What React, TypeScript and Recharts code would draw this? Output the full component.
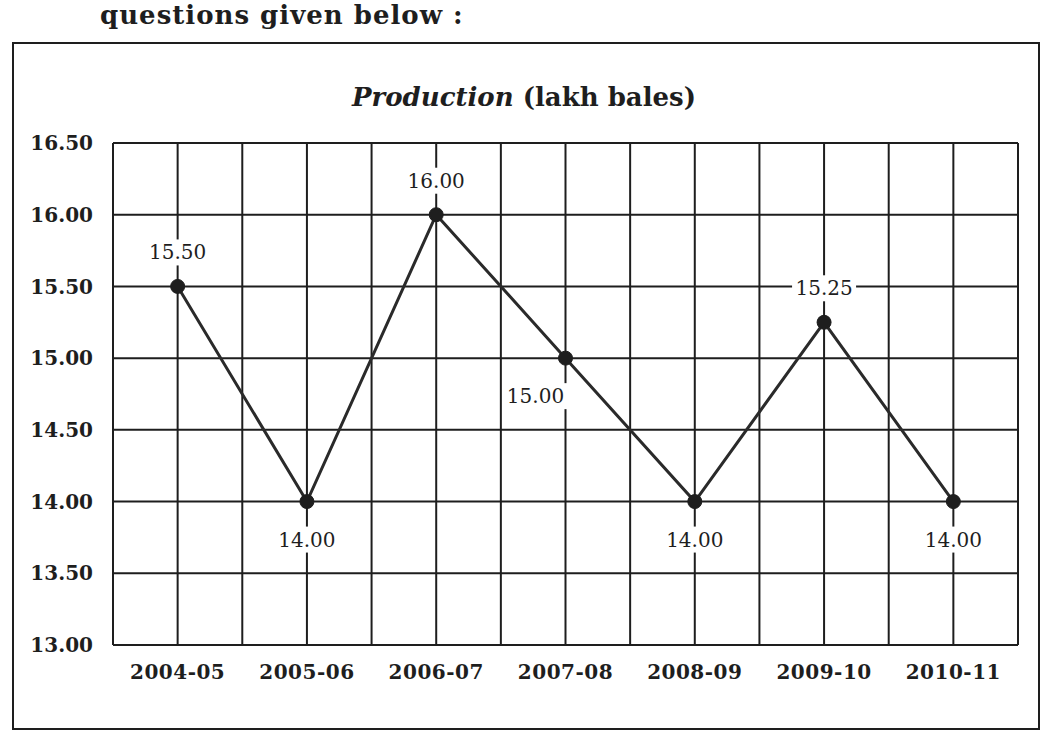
import React from 'react'
import { LineChart, Line, XAxis, YAxis, CartesianGrid, LabelList } from 'recharts'

const categories = ['2004-05', '2005-06', '2006-07', '2007-08', '2008-09', '2009-10', '2010-11']
const production = [15.5, 14.0, 16.0, 15.0, 14.0, 15.25, 14.0]
const yTicks = [13.0, 13.5, 14.0, 14.5, 15.0, 15.5, 16.0, 16.5]

const INK = '#1e1e1e'
const FONT = '"DejaVu Serif", "Liberation Serif", serif'

const data = categories.map((c, i) => ({ idx: i, name: c, value: production[i] }))
const xTicks: number[] = []
for (let i = -1; i <= categories.length * 2 - 1; i++) xTicks.push(i / 2)

// peaks get the label above, dips below, a point on a slope below and to the left
function PointLabel(props: any) {
  const { x, y, value, index } = props
  const prev = production[index - 1]
  const next = production[index + 1]
  const isPeak = (prev === undefined || value > prev) && (next === undefined || value > next)
  const isValley = (prev === undefined || value < prev) && (next === undefined || value < next)
  let lx = x
  let ly = y - 34
  if (!isPeak) {
    ly = y + 38
    if (!isValley) lx = x - 30
  }
  return (
    <g>
      <rect x={lx - 32} y={ly - 13} width={64} height={26} fill="#fff" />
      <text
        x={lx}
        y={ly}
        textAnchor="middle"
        dominantBaseline="central"
        fontFamily={FONT}
        fontSize={20}
        fill={INK}
      >
        {Number(value).toFixed(2)}
      </text>
    </g>
  )
}

export default function App() {
  return (
    <div
      style={{
        position: 'absolute',
        left: 0,
        top: 0,
        width: 1048,
        height: 738,
        overflow: 'hidden',
        background: '#fff',
        fontFamily: FONT,
      }}
    >
      <div
        style={{
          position: 'absolute',
          left: 100,
          top: 0,
          fontSize: 26,
          lineHeight: '30px',
          fontWeight: 700,
          color: INK,
          letterSpacing: 1,
        }}
      >
        questions given below :
      </div>
      <div
        style={{
          position: 'absolute',
          left: 12,
          top: 42,
          width: 1024,
          height: 684,
          border: `2px solid ${INK}`,
        }}
      />
      <div
        style={{
          position: 'absolute',
          left: 0,
          width: 1048,
          top: 82,
          textAlign: 'center',
          fontSize: 26,
          fontWeight: 600,
          color: INK,
        }}
      >
        <i>Production</i> (lakh bales)
      </div>
      <div style={{ position: 'absolute', left: 0, top: 0 }}>
        <LineChart width={1048} height={738} data={data} margin={{ top: 143, right: 30, bottom: 63, left: 13 }}>
          <CartesianGrid stroke={INK} strokeWidth={2} horizontalValues={yTicks} verticalValues={xTicks} />
          <XAxis
            type="number"
            dataKey="idx"
            domain={[-0.5, categories.length - 0.5]}
            ticks={xTicks}
            interval={0}
            axisLine={false}
            tickLine={false}
            tickMargin={14}
            tick={{ fontFamily: FONT, fontSize: 20, fontWeight: 700, fill: INK, letterSpacing: 0.5 }}
            tickFormatter={(v: number) => (Number.isInteger(v) ? categories[v] : '')}
          />
          <YAxis
            type="number"
            domain={[13, 16.5]}
            ticks={yTicks}
            interval={0}
            width={100}
            axisLine={false}
            tickLine={false}
            tickMargin={14}
            tick={{ fontFamily: FONT, fontSize: 20, fontWeight: 700, fill: INK }}
            tickFormatter={(v: number) => v.toFixed(2)}
          />
          <Line
            type="linear"
            dataKey="value"
            stroke="#2a2a2a"
            strokeWidth={3}
            dot={{ r: 7, fill: INK, stroke: INK, strokeWidth: 1 }}
            isAnimationActive={false}
          >
            <LabelList dataKey="value" content={PointLabel} />
          </Line>
        </LineChart>
      </div>
    </div>
  )
}
